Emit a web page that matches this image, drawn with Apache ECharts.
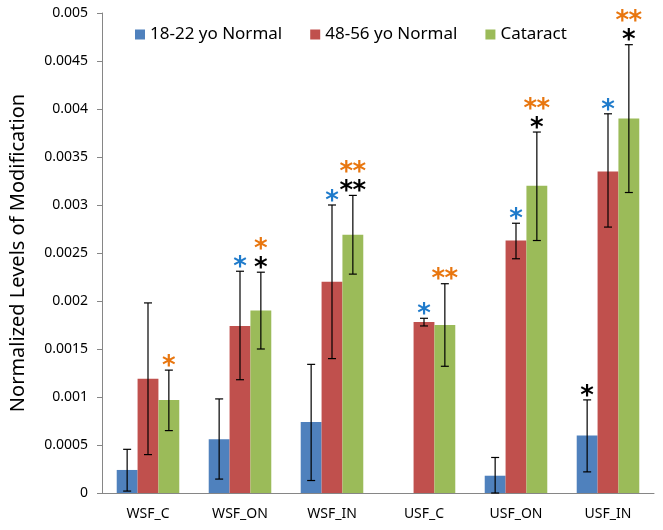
<!DOCTYPE html>
<html>
<head>
<meta charset="utf-8">
<script src="https://cdn.jsdelivr.net/npm/echarts@6/dist/echarts.min.js"></script>
<style>
  html, body { margin: 0; padding: 0; background: #fff; }
  #chart { width: 663px; height: 530px; }
</style>
</head>
<body>
<div id="chart"></div>
<script>
var categories = ['WSF_C', 'WSF_ON', 'WSF_IN', 'USF_C', 'USF_ON', 'USF_IN'];
var seriesNames = ['18-22 yo Normal', '48-56 yo Normal', 'Cataract'];

// mean values
var young = [0.00024, 0.00056, 0.00074, null, 0.00018, 0.0006];
var older = [0.00119, 0.00174, 0.0022, 0.00178, 0.00263, 0.00335];
var cataract = [0.00097, 0.0019, 0.00269, 0.00175, 0.0032, 0.0039];

// error bar ends [low, high]
var youngErr = [[0.00002, 0.000455], [0.000145, 0.00098], [0.00013, 0.00134], null, [0, 0.00037], [0.00022, 0.00097]];
var olderErr = [[0.0004, 0.00198], [0.00118, 0.00231], [0.0014, 0.003], [0.00174, 0.00182], [0.00244, 0.00281], [0.00277, 0.00395]];
var cataractErr = [[0.00065, 0.00128], [0.0015, 0.0023], [0.00228, 0.0031], [0.00132, 0.00218], [0.00263, 0.00376], [0.00313, 0.00467]];

// significance marks: tokens are lines from bottom up, one letter per asterisk
// k = black, b = blue, o = orange
var youngMarks = ['', '', '', '', '', 'k'];
var olderMarks = ['', 'b', 'b', 'b', 'b', 'b'];
var cataractMarks = ['o', 'k o', 'kk oo', 'oo', 'k oo', 'k oo'];

var yTicks = [0, 0.0005, 0.001, 0.0015, 0.002, 0.0025, 0.003, 0.0035, 0.004, 0.0045, 0.005];

var colors = ['#4F81BD', '#C0504D', '#9BBB59'];
var markColors = { k: '#000000', b: '#1F7BCB', o: '#E8760F' };
var catGap = 0.32;

var means = [young, older, cataract];
var errs = [youngErr, olderErr, cataractErr];
var marks = [youngMarks, olderMarks, cataractMarks];

var errData = [];
var errMarks = [];
for (var s = 0; s < 3; s++) {
    for (var i = 0; i < categories.length; i++) {
        if (!errs[s][i]) continue;
        errData.push([i, errs[s][i][0], errs[s][i][1], s]);
        errMarks.push(marks[s][i]);
    }
}

var chart = echarts.init(document.getElementById('chart'));

var option = {
    animation: false,
    textStyle: { fontFamily: 'Noto Sans' },
    legend: {
        top: 21,
        left: 130,
        itemWidth: 10,
        itemHeight: 10,
        itemGap: 28,
        icon: 'rect',
        textStyle: { fontSize: 17, color: '#000', fontFamily: 'Noto Sans' },
        data: seriesNames
    },
    grid: { left: 97, right: 9, top: 13, bottom: 37 },
    xAxis: {
        type: 'category',
        data: categories,
        axisLine: { lineStyle: { color: '#868686' } },
        axisTick: { length: 5, lineStyle: { color: '#868686' } },
        axisLabel: { color: '#000', fontSize: 14, margin: 14 }
    },
    yAxis: {
        type: 'value',
        min: 0,
        max: 0.005,
        interval: 0.0005,
        name: 'Normalized Levels of Modification',
        nameLocation: 'middle',
        nameGap: 74,
        nameTextStyle: { fontSize: 20, color: '#000' },
        splitLine: { show: false },
        axisLine: { show: true, lineStyle: { color: '#868686' } },
        axisTick: { show: true, length: 5, lineStyle: { color: '#868686' } },
        axisLabel: {
            color: '#000',
            fontSize: 14,
            margin: 14,
            formatter: function (v) {
                var t = yTicks.filter(function (x) { return Math.abs(x - v) < 1e-9; });
                return t.length ? String(t[0]) : '';
            }
        }
    },
    series: [
        { name: seriesNames[0], type: 'bar', data: young, itemStyle: { color: colors[0] }, barGap: '0%', barCategoryGap: (catGap * 100) + '%' },
        { name: seriesNames[1], type: 'bar', data: older, itemStyle: { color: colors[1] } },
        { name: seriesNames[2], type: 'bar', data: cataract, itemStyle: { color: colors[2] } },
        {
            type: 'custom',
            data: errData,
            z: 10,
            renderItem: function (params, api) {
                var cat = api.value(0);
                var s = api.value(3);
                var band = api.size([1, 0])[0];
                var bw = band * (1 - catGap) / 3;
                var x = api.coord([cat, 0])[0] + (s - 1) * bw;
                var yLo = api.coord([cat, api.value(1)])[1];
                var yHi = api.coord([cat, api.value(2)])[1];
                var st = { stroke: '#000', lineWidth: 1.2 };
                var children = [
                    { type: 'line', shape: { x1: x, y1: yLo, x2: x, y2: yHi }, style: st },
                    { type: 'line', shape: { x1: x - 4, y1: yHi, x2: x + 4, y2: yHi }, style: st },
                    { type: 'line', shape: { x1: x - 4, y1: yLo, x2: x + 4, y2: yLo }, style: st }
                ];
                var tokens = errMarks[params.dataIndex].split(' ').filter(Boolean);
                tokens.forEach(function (tok, li) {
                    var n = tok.length;
                    for (var k = 0; k < n; k++) {
                        children.push({
                            type: 'text',
                            style: {
                                x: x + (k - (n - 1) / 2) * 13,
                                y: yHi - 12 - li * 19 + 9,
                                text: '*',
                                fill: markColors[tok[k]],
                                font: 'bold 26px "DejaVu Sans"',
                                textAlign: 'center',
                                textVerticalAlign: 'middle'
                            }
                        });
                    }
                });
                return { type: 'group', children: children };
            }
        }
    ]
};

chart.setOption(option);
</script>
</body>
</html>
